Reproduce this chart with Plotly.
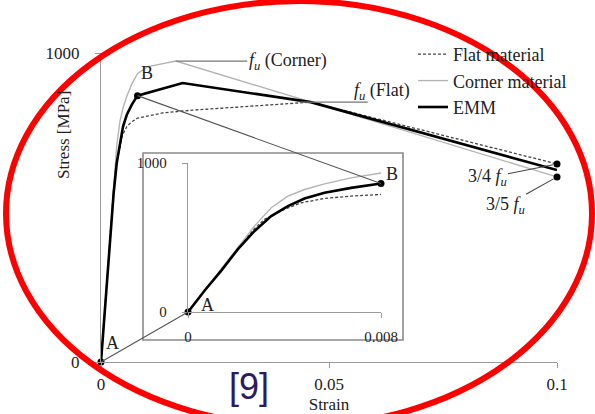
import plotly.graph_objects as go

# ---------------- data ----------------
emm_strain = [0, 0.00069, 0.00138, 0.00207, 0.00276, 0.00345, 0.00414, 0.00483, 0.00566, 0.00676,
              0.008, 0.0179, 0.046, 0.1]
emm_stress = [0, 144, 278, 422, 544, 644, 711, 762, 800, 833, 862, 903, 841, 621]

corner_strain = [0, 0.00069, 0.00138, 0.00207, 0.00276, 0.00345, 0.00414, 0.00483, 0.00566, 0.00676,
                 0.008, 0.0101, 0.0164, 0.1]
corner_stress = [0, 146, 285, 433, 578, 700, 778, 822, 860, 900, 933, 955, 974, 599]

flat_strain = [0, 0.00069, 0.00138, 0.00207, 0.00276, 0.00317, 0.0040, 0.00469, 0.00566, 0.00676,
               0.008, 0.0135, 0.0200, 0.0300, 0.0370, 0.046, 0.1]
flat_stress = [0, 144, 280, 428, 560, 622, 689, 733, 762, 778, 789, 806, 815, 825, 832, 841, 641]

main_xticks = [0, 0.05, 0.1]
main_xticktext = ["0", "0.05", "0.1"]
main_yticks = [0, 1000]
inset_xticks = [0, 0.008]
inset_xticktext = ["0", "0.008"]
inset_yticks = [0, 1000]

# named points
A = (emm_strain[0], emm_stress[0])
B = (emm_strain[10], emm_stress[10])
fu_corner = (corner_strain[12], corner_stress[12])
fu_flat = (flat_strain[15], flat_stress[15])
end_flat = (flat_strain[-1], flat_stress[-1])
end_corner = (corner_strain[-1], corner_stress[-1])

# ---------------- layout geometry (pixels) ----------------
W, H = 595, 414
MX0, MX1 = 101, 557     # main x: 0 .. 0.1
MY0, MY1 = 362, 53      # main y: 0 .. 1000
IX0, IX1 = 188, 381     # inset x: 0 .. 0.008
IY0, IY1 = 312, 163     # inset y: 0 .. 1000

def main_paper(x, y):
    return (MX0 + x / 0.1 * (MX1 - MX0)) / W, 1 - (MY0 - y / 1000 * (MY0 - MY1)) / H

def inset_paper(x, y):
    return (IX0 + x / 0.008 * (IX1 - IX0)) / W, 1 - (IY0 - y / 1000 * (IY0 - IY1)) / H

SERIF = "Liberation Serif"
AXC = "#9a9a9a"
TXT = "#222222"

fig = go.Figure()

styles = [
    ("Flat material", flat_strain, flat_stress, dict(color="#444444", width=1.3, dash="3px,2px")),
    ("Corner material", corner_strain, corner_stress, dict(color="#b4b4b4", width=1.4)),
    ("EMM", emm_strain, emm_stress, dict(color="#000000", width=2.6)),
]
for name, xs, ys, ln in styles:
    fig.add_trace(go.Scatter(x=xs, y=ys, mode="lines", name=name, line=ln,
                             xaxis="x", yaxis="y", showlegend=True))
for name, xs, ys, ln in styles:
    fig.add_trace(go.Scatter(x=xs, y=ys, mode="lines", name=name, line=ln,
                             xaxis="x2", yaxis="y2", showlegend=False))

# dots
fig.add_trace(go.Scatter(x=[A[0], B[0], end_flat[0], end_corner[0]],
                         y=[A[1], B[1], end_flat[1], end_corner[1]],
                         mode="markers", marker=dict(color="black", size=7),
                         xaxis="x", yaxis="y", showlegend=False, cliponaxis=False))
fig.add_trace(go.Scatter(x=[A[0], B[0]], y=[A[1], B[1]], mode="markers",
                         marker=dict(color="black", size=7),
                         xaxis="x2", yaxis="y2", showlegend=False, cliponaxis=False))

shapes = []
# inset frame
shapes.append(dict(type="rect", xref="paper", yref="paper",
                   x0=143 / W, x1=403 / W, y0=1 - 340 / H, y1=1 - 153 / H,
                   line=dict(color="#8a8a8a", width=1.6), layer="below"))
# zoom connector lines
for p in (A, B):
    x0, y0 = main_paper(*p)
    x1, y1 = inset_paper(*p)
    shapes.append(dict(type="line", xref="paper", yref="paper", x0=x0, y0=y0, x1=x1, y1=y1,
                       line=dict(color="#555555", width=1.1)))
# f_u (Flat) leader line
shapes.append(dict(type="line", xref="x", yref="y", x0=fu_flat[0] - 0.0025, x1=fu_flat[0] + 0.0125,
                   y0=fu_flat[1], y1=fu_flat[1], line=dict(color="#777777", width=1.2)))
# red ellipse
shapes.append(dict(type="circle", xref="paper", yref="paper",
                   x0=6 / W, x1=592 / W, y0=1 - 426 / H, y1=1 - 1 / H,
                   line=dict(color="#ff0000", width=6), layer="above"))

ann = []
def label(text, x, y, xref="x", yref="y", size=18, **kw):
    d = dict(text=text, x=x, y=y, xref=xref, yref=yref, showarrow=False,
             xanchor="center", yanchor="middle",
             font=dict(family=SERIF, size=size, color=TXT))
    d.update(kw)
    ann.append(d)

label("A", 0.0026, 61)
label("B", 0.0101, 935)
ia = inset_paper(0.00079, 47)
ib = inset_paper(0.00846, 925)
label("A", ia[0], ia[1], xref="paper", yref="paper")
label("B", ib[0], ib[1], xref="paper", yref="paper")
label("<i>f</i><sub><i>u</i></sub> (Flat)", fu_flat[0] + 0.009, 877, xanchor="left")

# f_u (Corner) with leader
ann.append(dict(text="<i>f</i><sub><i>u</i></sub> (Corner)", x=fu_corner[0], y=fu_corner[1],
                xref="x", yref="y", showarrow=True, arrowhead=0, arrowwidth=1.2,
                arrowcolor="#777777", ax=112, ay=0, font=dict(family=SERIF, size=18, color=TXT)))
ann.append(dict(text="3/4 <i>f</i><sub><i>u</i></sub>", x=end_flat[0], y=end_flat[1],
                xref="x", yref="y", showarrow=True, arrowhead=0, arrowwidth=1.1,
                arrowcolor="#444444", ax=-70, ay=14, standoff=4,
                font=dict(family=SERIF, size=18, color=TXT)))
ann.append(dict(text="3/5 <i>f</i><sub><i>u</i></sub>", x=end_corner[0], y=end_corner[1],
                xref="x", yref="y", showarrow=True, arrowhead=0, arrowwidth=1.1,
                arrowcolor="#444444", ax=-52, ay=29, standoff=4,
                font=dict(family=SERIF, size=18, color=TXT)))
# y-axis title
label("Stress [MPa]", 63 / W, 1 - 135 / H, xref="paper", yref="paper", textangle=-90, size=17)
# reference tag
ann.append(dict(text="[9]", x=249 / W, y=1 - 386 / H, xref="paper", yref="paper", showarrow=False,
                xanchor="center", yanchor="middle",
                font=dict(family="Liberation Sans", size=36, color="#2e1a5c")))

axis_common = dict(showgrid=False, zeroline=False, showline=True, linecolor=AXC, linewidth=1.3,
                   ticks="outside", ticklen=5, tickcolor=AXC, tickwidth=1.3, fixedrange=True,
                   automargin=False)

fig.update_layout(
    width=W, height=H, margin=dict(l=0, r=0, t=0, b=0, autoexpand=False),
    paper_bgcolor="white", plot_bgcolor="rgba(0,0,0,0)",
    font=dict(family=SERIF, size=17, color=TXT),
    xaxis=dict(domain=[MX0 / W, MX1 / W], range=[0, 0.1], anchor="y",
               tickmode="array", tickvals=main_xticks, ticktext=main_xticktext,
               tickfont=dict(family=SERIF, size=17, color=TXT), ticklabelstandoff=1,
               title=dict(text="Strain", standoff=6, font=dict(family=SERIF, size=17, color=TXT)),
               **axis_common),
    yaxis=dict(domain=[1 - MY0 / H, 1 - MY1 / H], range=[0, 1000], anchor="x",
               tickmode="array", tickvals=main_yticks,
               tickfont=dict(family=SERIF, size=17, color=TXT), ticklabelstandoff=12,
               **axis_common),
    xaxis2=dict(domain=[IX0 / W, IX1 / W], range=[0, 0.008], anchor="y2",
                tickmode="array", tickvals=inset_xticks, ticktext=inset_xticktext,
                tickfont=dict(family=SERIF, size=15, color=TXT), ticklabelstandoff=6,
                **axis_common),
    yaxis2=dict(domain=[1 - IY0 / H, 1 - IY1 / H], range=[0, 1000], anchor="x2",
                tickmode="array", tickvals=inset_yticks,
                tickfont=dict(family=SERIF, size=15, color=TXT), ticklabelstandoff=12,
                **axis_common),
    legend=dict(x=413 / W, y=1 - 36 / H, xanchor="left", yanchor="top",
                bgcolor="rgba(0,0,0,0)", font=dict(family=SERIF, size=18, color=TXT),
                itemwidth=30, tracegroupgap=0),
    shapes=shapes, annotations=ann, showlegend=True,
)

fig.write_html("out.html")
